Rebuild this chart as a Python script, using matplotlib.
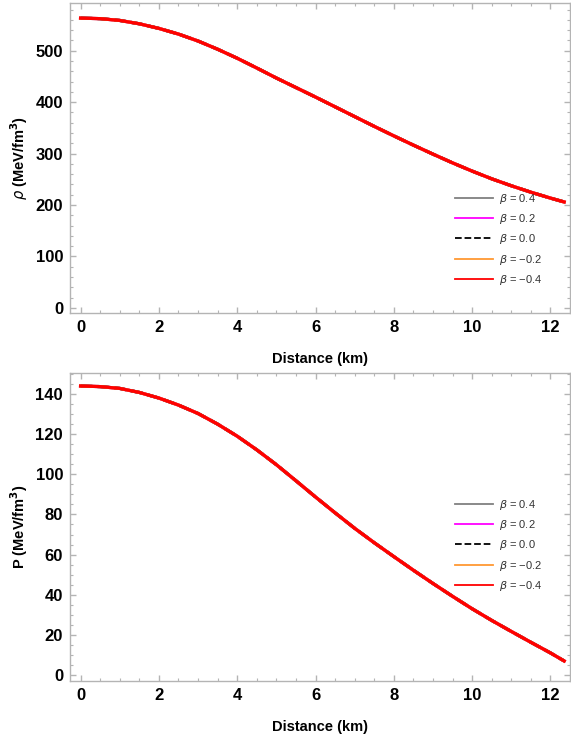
import matplotlib.pyplot as plt
from matplotlib.lines import Line2D
from matplotlib.ticker import MultipleLocator

# distance (km) et valeurs
r_km = [0, 0.5, 1, 1.5, 2, 2.5, 3, 3.5, 4, 4.5, 5, 5.5, 6, 6.5, 7, 7.5,
        8, 8.5, 9, 9.5, 10, 10.5, 11, 11.5, 12, 12.35]
rho = [563.5, 562.5, 559, 552.5, 543.5, 532.5, 519, 503, 485.5, 466.5, 447,
       428.5, 410, 391, 372, 353, 334.5, 316.5, 299, 282, 266, 251, 237.5,
       225, 213.5, 206]
pres = [144, 143.7, 142.8, 140.8, 138, 134.5, 130.3, 125, 119, 112.2, 104.8,
        96.8, 88.7, 80.8, 73.1, 65.9, 59, 52.2, 45.6, 39.2, 33.0, 27.2, 21.7,
        16.3, 11, 7]

betas = ["0.4", "0.2", "0.0", "\u22120.2", "\u22120.4"]
colors = ["#808080", "#ff00ff", "black", "#ff9933", "red"]
styles = ["-", "-", "--", "-", "-"]

plt.rcParams['font.family'] = ['Liberation Sans', 'DejaVu Sans']
frame_col = "#b4b4b4"

fig = plt.figure(figsize=(5.71, 7.40), dpi=100)
ax1 = fig.add_axes([0.1226, 0.577, 0.8757, 0.419])
ax2 = fig.add_axes([0.1226, 0.0797, 0.8757, 0.4163])


def style_axes(ax, ymaj, ymin):
    for s in ax.spines.values():
        s.set_color(frame_col)
        s.set_linewidth(1.0)
    ax.xaxis.set_major_locator(MultipleLocator(2))
    ax.xaxis.set_minor_locator(MultipleLocator(0.5))
    ax.yaxis.set_major_locator(MultipleLocator(ymaj))
    ax.yaxis.set_minor_locator(MultipleLocator(ymin))
    ax.tick_params(which='both', direction='in', top=True, right=True,
                   color=frame_col, labelcolor='black')
    ax.tick_params(which='major', length=4, width=1, labelsize=12, pad=5)
    ax.tick_params(which='minor', length=2.5, width=0.8)
    for lab in ax.get_xticklabels() + ax.get_yticklabels():
        lab.set_fontweight('bold')


for ax, data in [(ax1, rho), (ax2, pres)]:
    handles = []
    for b, c, ls in zip(betas, colors, styles):
        ax.plot(r_km, data, color=c, ls=ls, lw=2.3)
        handles.append(Line2D([], [], color=c, ls=ls, lw=1.3,
                              label=r"$\beta$ = " + b))
    ax.set_xlim(-0.27, 12.5)
    ax.legend(handles=handles, loc='upper left', frameon=False, fontsize=8,
              handlelength=3.4, handletextpad=0.6, labelspacing=0.57,
              bbox_to_anchor=(0.75, 0.424 if ax is ax1 else 0.628),
              labelcolor='#333333')

ax1.set_ylim(-10, 593)
ax2.set_ylim(-3, 150.5)
style_axes(ax1, 100, 20)
style_axes(ax2, 20, 5)
ax1.set_xlabel("Distance (km)", fontsize=10.5, fontweight='bold', labelpad=12)
ax2.set_xlabel("Distance (km)", fontsize=10.5, fontweight='bold', labelpad=12)
ax1.set_ylabel(r"$\rho$ (MeV/fm$^\mathbf{3}$)", fontsize=10.5, fontweight='bold', labelpad=4)
ax2.set_ylabel(r"P (MeV/fm$^\mathbf{3}$)", fontsize=10.5, fontweight='bold', labelpad=4)

fig.savefig("out.png", dpi=100)
